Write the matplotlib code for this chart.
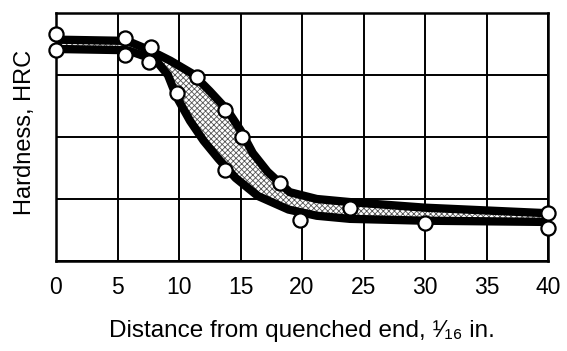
"""Jominy end-quench hardenability band with measured hardness points."""

import matplotlib

matplotlib.use("Agg")

import matplotlib.pyplot as plt

# Band limits, distance in 1/16 in. and hardness in HRC
upper_dist = [0.0, 5.8, 7.6, 9.3, 11.1, 12.5, 13.9, 15.0, 16.0, 17.2, 19.0, 21.2, 23.9, 30.0, 40.0]
upper_hrc = [55.7, 55.5, 54.0, 52.3, 50.2, 47.4, 44.4, 41.1, 37.4, 34.4, 31.1, 30.0, 29.5, 28.6, 27.7]
lower_dist = [0.0, 5.8, 8.1, 9.1, 9.8, 10.9, 12.0, 13.2, 14.6, 16.4, 18.9, 21.2, 23.9, 30.0, 40.0]
lower_hrc = [54.2, 54.0, 52.4, 50.0, 46.5, 42.6, 39.4, 36.5, 33.4, 30.5, 28.3, 27.3, 26.8, 26.5, 26.3]

# Measured points
point_dist = [0, 0, 5.6, 5.6, 7.7, 7.6, 9.8, 11.5, 13.7, 15.1, 13.7, 18.2, 19.8, 23.9, 30, 40, 40]
point_hrc = [56.6, 54.0, 56.0, 53.2, 54.5, 52.1, 47.1, 49.7, 44.4, 40.0, 34.7, 32.6, 26.6, 28.6, 26.1, 27.7, 25.3]

x_ticks = [0, 5, 10, 15, 20, 25, 30, 35, 40]
y_grid = [20, 30, 40, 50, 60]

FONT = ["Liberation Sans", "DejaVu Sans"]


def main() -> None:
    plt.rcParams["hatch.linewidth"] = 0.6
    fig = plt.figure(figsize=(5.67, 3.51), dpi=100)
    ax = fig.add_axes([56 / 567, 1 - 261 / 351, 492 / 567, 248 / 351])

    ax.set_xlim(0, 40)
    ax.set_ylim(20, 60)
    ax.set_xticks(x_ticks)
    ax.set_yticks(y_grid)
    ax.set_yticklabels([])
    ax.grid(True, color="black", linewidth=1.4)
    ax.set_axisbelow(True)
    ax.tick_params(length=0, pad=11)
    for label in ax.get_xticklabels():
        label.set_fontfamily(FONT)
        label.set_fontsize(16.5)
    for spine in ax.spines.values():
        spine.set_linewidth(1.8)

    # hatched band between the two limit curves
    band_x = upper_dist + lower_dist[::-1]
    band_y = upper_hrc + lower_hrc[::-1]
    ax.fill(band_x, band_y, facecolor="white", edgecolor="#555555", hatch="xxxxxx", linewidth=0, zorder=3)
    ax.plot(upper_dist, upper_hrc, color="black", linewidth=6.0, solid_capstyle="butt", zorder=4)
    ax.plot(lower_dist, lower_hrc, color="black", linewidth=6.0, solid_capstyle="butt", zorder=4)

    ax.plot(point_dist, point_hrc, linestyle="none", marker="o", markersize=10.2,
            markerfacecolor="white", markeredgecolor="black", markeredgewidth=1.6,
            clip_on=False, zorder=5)

    ax.set_xlabel("Distance from quenched end, \u00b9\u2044\u2081\u2086 in.",
                  fontfamily=FONT, fontsize=17.5, labelpad=15)
    ax.text(-0.062, 0.52, "Hardness, HRC", transform=ax.transAxes, rotation=90,
            ha="center", va="center", fontfamily=FONT, fontsize=17)

    fig.savefig("out.png", dpi=100)
    plt.close(fig)


if __name__ == "__main__":
    main()
